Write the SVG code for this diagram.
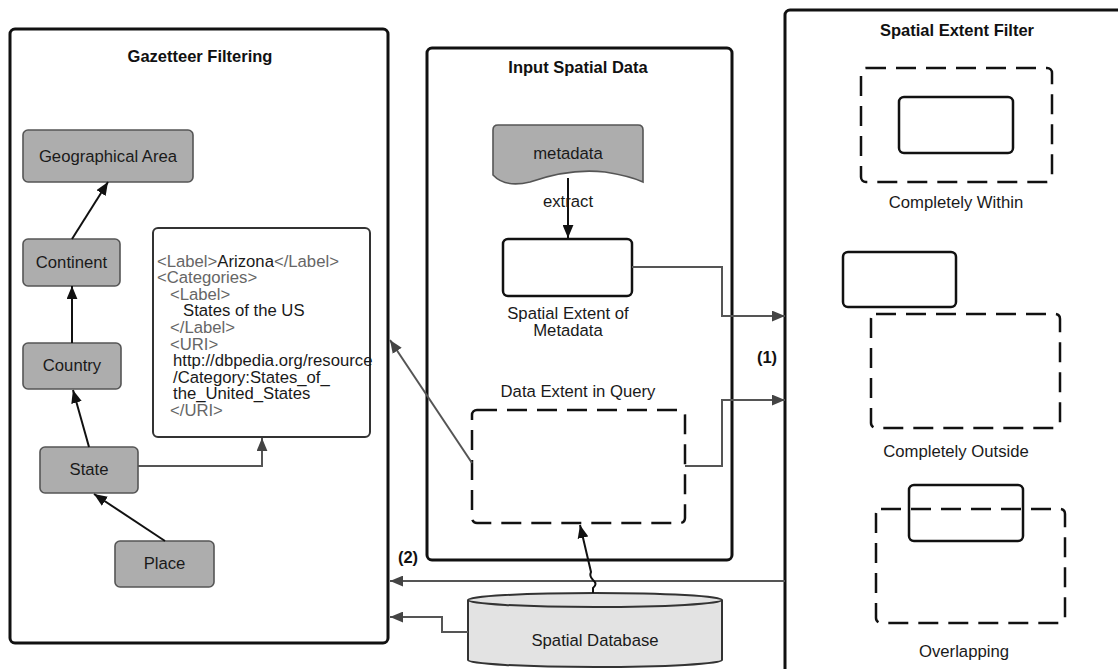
<svg xmlns="http://www.w3.org/2000/svg" width="1118" height="669" viewBox="0 0 1118 669">
<defs>
<style>
text{font-family:"Liberation Sans",Arial,sans-serif;font-size:16.7px;fill:#1a1a1a}
.title{font-weight:bold;font-size:16.5px;fill:#111}
.c{text-anchor:middle}
.container{fill:#fff;stroke:#111;stroke-width:3}
.gnode{fill:#adadad;stroke:#555;stroke-width:1.6}
.solid{fill:#fff;stroke:#111;stroke-width:2.5}
.dash{fill:none;stroke:#111;stroke-width:2.5;stroke-dasharray:20 10}
.xml{fill:#fff;stroke:#333;stroke-width:2}
.tag{fill:#666}
.blk{stroke:#111;stroke-width:2;fill:none}
.gry{stroke:#555;stroke-width:2;fill:none}
</style>
<marker id="ab" viewBox="0 0 12 10" refX="12" refY="5" markerWidth="13" markerHeight="11" markerUnits="userSpaceOnUse" orient="auto"><path d="M0,0 L12,5 L0,10 Z" fill="#111"/></marker>
<marker id="ag" viewBox="0 0 12 10" refX="12" refY="5" markerWidth="13" markerHeight="11" markerUnits="userSpaceOnUse" orient="auto"><path d="M0,0 L12,5 L0,10 Z" fill="#444"/></marker>
</defs>
<rect width="1118" height="669" fill="#fff"/>

<g id="gazetteer-filtering">
<rect class="container" x="10" y="29" width="378" height="614" rx="5"/>
<text class="title c" x="200" y="62">Gazetteer Filtering</text>
</g>
<g id="input-spatial-data">
<rect class="container" x="427" y="48" width="305" height="512" rx="5"/>
<text class="title c" x="578" y="73">Input Spatial Data</text>
</g>
<g id="spatial-extent-filter">
<rect class="container" x="785" y="10" width="400" height="700" rx="5"/>
<text class="title c" x="957" y="36">Spatial Extent Filter</text>
</g>

<g id="geographical-area"><rect class="gnode" x="23" y="130" width="170" height="52" rx="5"/><text class="c" x="108" y="162">Geographical Area</text></g>
<g id="continent"><rect class="gnode" x="23" y="239" width="97" height="47" rx="5"/><text class="c" x="71.5" y="268">Continent</text></g>
<g id="country"><rect class="gnode" x="23" y="343" width="98" height="46" rx="5"/><text class="c" x="72" y="371">Country</text></g>
<g id="state"><rect class="gnode" x="40" y="447" width="98" height="46" rx="5"/><text class="c" x="89" y="475">State</text></g>
<g id="place"><rect class="gnode" x="115" y="541" width="99" height="46" rx="5"/><text class="c" x="164.5" y="569">Place</text></g>

<g id="xml-record">
<rect class="xml" x="153" y="228" width="217" height="209" rx="5"/>
<text x="157" y="266.5"><tspan class="tag">&lt;Label&gt;</tspan>Arizona<tspan class="tag">&lt;/Label&gt;</tspan></text>
<text class="tag" x="157" y="283.1">&lt;Categories&gt;</text>
<text class="tag" x="170" y="299.7">&lt;Label&gt;</text>
<text x="183" y="316.3">States of the US</text>
<text class="tag" x="170" y="332.9">&lt;/Label&gt;</text>
<text class="tag" x="170" y="349.5">&lt;URI&gt;</text>
<text x="173" y="366.1">http://dbpedia.org/resource</text>
<text x="173" y="382.7">/Category:States_of_</text>
<text x="173" y="399.3">the_United_States</text>
<text class="tag" x="170" y="415.9">&lt;/URI&gt;</text>
</g>

<g id="metadata">
<path d="M493,130 Q493,125 498,125 H638 Q643,125 643,130 V182 Q630,176 605,172 Q570,168 530,182 Q505,188 493,175 Z" fill="#adadad" stroke="#555" stroke-width="1.6"/>
<text class="c" x="568" y="159">metadata</text>
</g>
<g id="spatial-extent-of-metadata">
<rect class="solid" x="503" y="239" width="129" height="57" rx="5"/>
<text class="c" x="568" y="319">Spatial Extent of</text>
<text class="c" x="568" y="336">Metadata</text>
</g>
<g id="data-extent-in-query">
<text class="c" x="578" y="397">Data Extent in Query</text>
<rect class="dash" x="472" y="410" width="213" height="113" rx="5"/>
</g>
<g id="spatial-database">
<path d="M468,600 A127,7 0 0,1 722,600 V660 A127,7 0 0,1 468,660 Z" fill="#e3e3e3" stroke="#333" stroke-width="2"/>
<path d="M468,600 A127,7 0 0,0 722,600" fill="none" stroke="#333" stroke-width="2"/>
<text class="c" x="595" y="646">Spatial Database</text>
</g>

<g id="completely-within">
<rect class="dash" x="861" y="68" width="191" height="114" rx="5"/>
<rect class="solid" x="899" y="97" width="114" height="56" rx="5"/>
<text class="c" x="956" y="208">Completely Within</text>
</g>
<g id="completely-outside">
<rect class="solid" x="843" y="252" width="113" height="55" rx="5"/>
<rect class="dash" x="871" y="314" width="189" height="114" rx="5"/>
<text class="c" x="956" y="457">Completely Outside</text>
</g>
<g id="overlapping">
<rect class="solid" x="909" y="485" width="114" height="56" rx="5"/>
<rect class="dash" x="876" y="509" width="189" height="114" rx="5"/>
<text class="c" x="964" y="657">Overlapping</text>
</g>

<g id="connectors">
<path class="blk" d="M72,239 L108,182" marker-end="url(#ab)"/>
<path class="blk" d="M72,343 L72,286" marker-end="url(#ab)"/>
<path class="blk" d="M89,447 L73,390" marker-end="url(#ab)"/>
<path class="blk" d="M165,541 L94,494" marker-end="url(#ab)"/>
<path class="gry" d="M138,466 H262 V438" marker-end="url(#ag)"/>
<path class="blk" d="M568,178 V238" marker-end="url(#ab)"/>
<text class="c" x="568" y="207">extract</text>
<path class="gry" d="M632,267 H722 V316 H785" marker-end="url(#ag)"/>
<path class="gry" d="M685,466 H722 V400 H785" marker-end="url(#ag)"/>
<text class="title c" x="767" y="363">(1)</text>
<path class="gry" d="M472,463 L390,340" marker-end="url(#ag)"/>
<path class="gry" d="M785,581 H390" marker-end="url(#ag)"/>
<text class="title c" x="408" y="563">(2)</text>
<path class="gry" d="M468,632 H442 V617 H390" marker-end="url(#ag)"/>
<path class="blk" d="M593,593 V588 Q598,584 593,580 Q589,576 591,572 L580,525" marker-end="url(#ab)"/>
</g>
</svg>
